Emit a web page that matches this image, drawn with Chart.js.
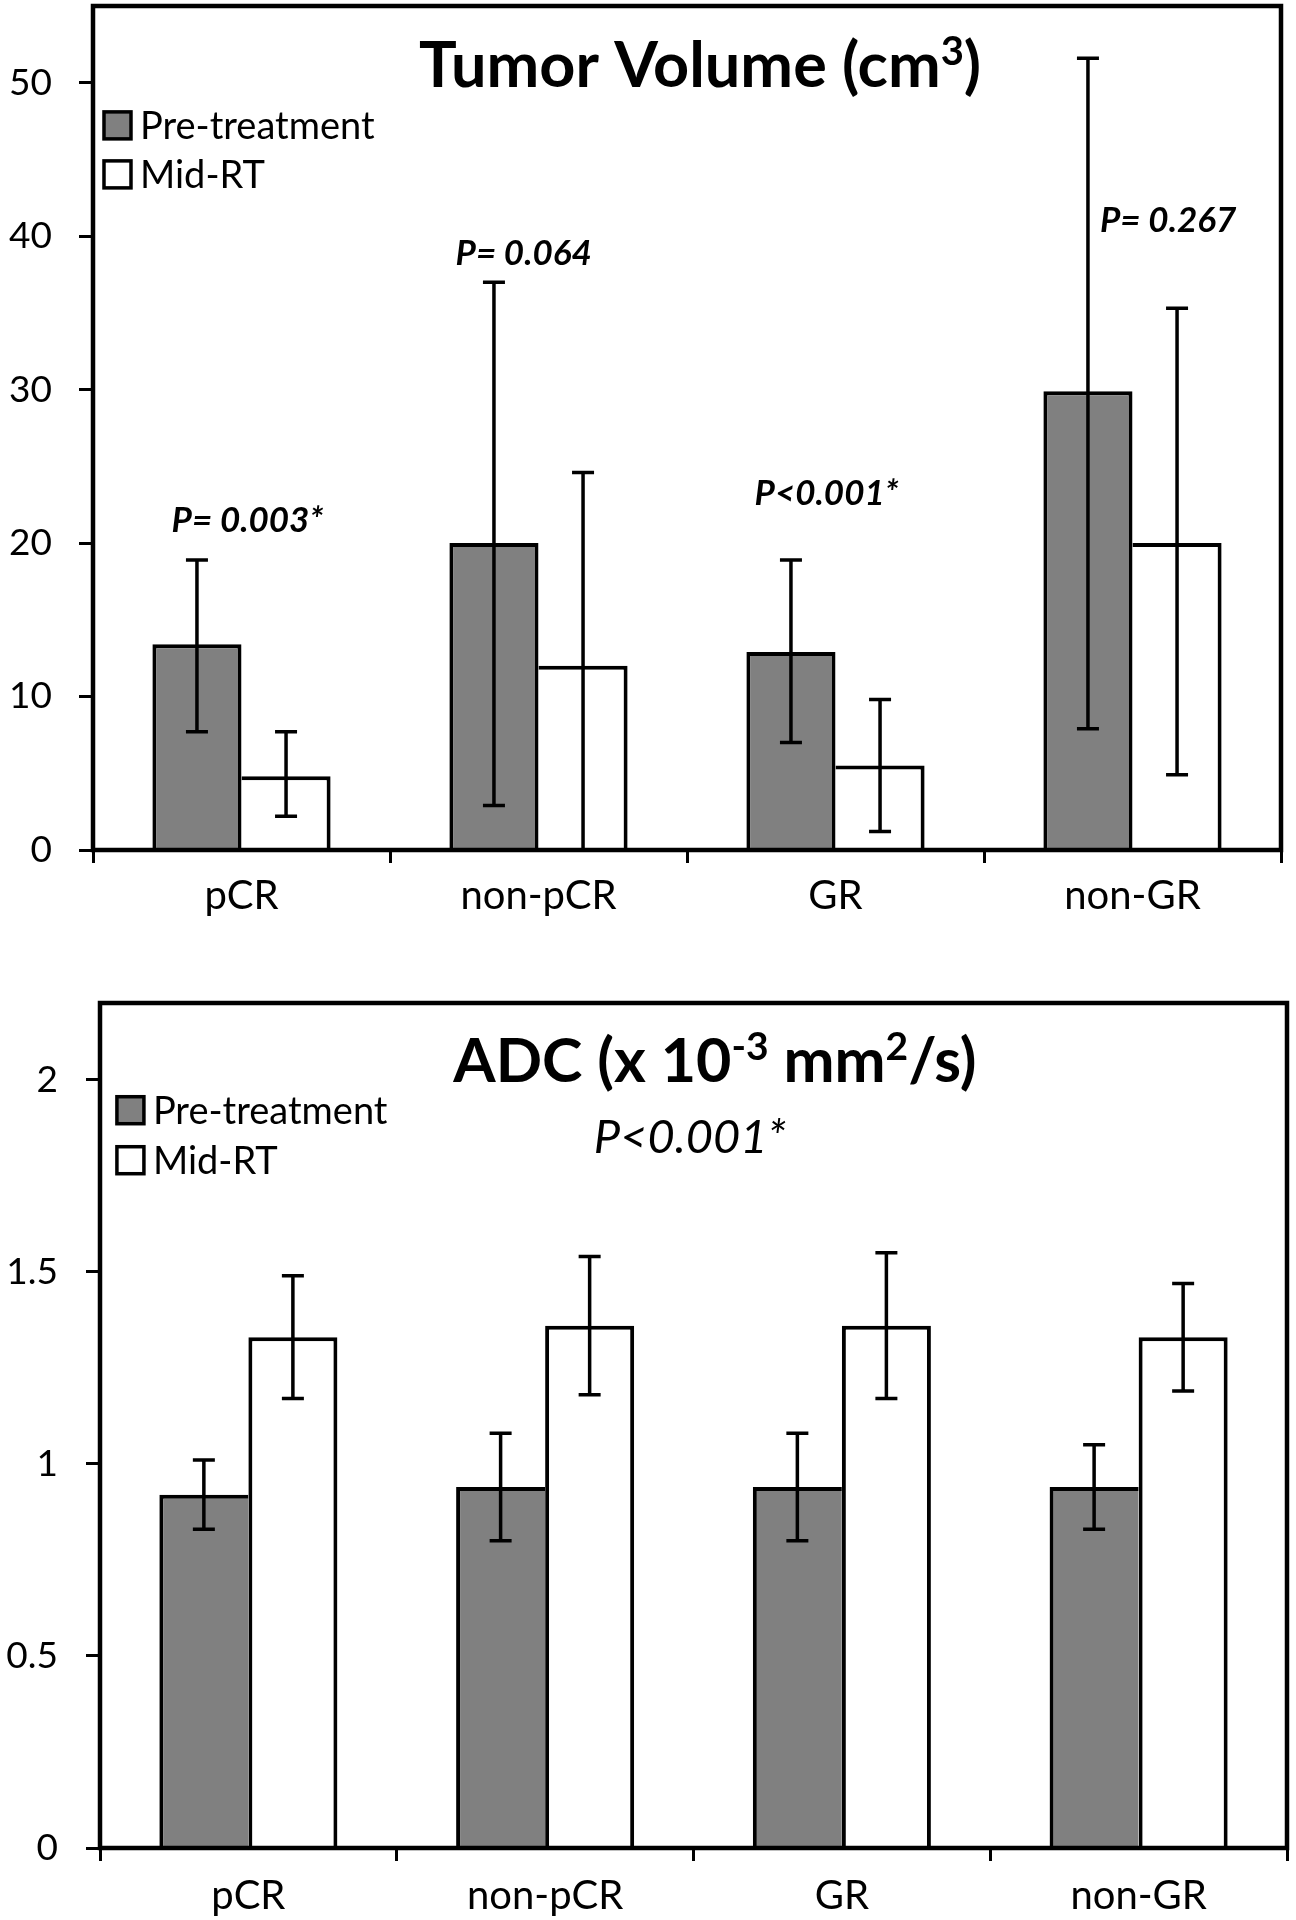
<!DOCTYPE html>
<html>
<head>
<meta charset="utf-8">
<script src="https://cdn.jsdelivr.net/npm/chart.js@4.4.1/dist/chart.umd.min.js"></script>
<style>
html,body{margin:0;padding:0;background:#fff;}
#wrap{position:relative;width:1296px;height:1920px;background:#fff;}
.panel{position:absolute;left:0;width:1296px;height:960px;}
#p1{top:0;}
#p2{top:960px;}
</style>
</head>
<body>
<div id="wrap">
  <div class="panel" id="p1"><canvas id="c1"></canvas></div>
  <div class="panel" id="p2"><canvas id="c2"></canvas></div>
</div>
<script>
// ---------------- DATA ----------------
const categories = ['pCR', 'non-pCR', 'GR', 'non-GR'];
const seriesNames = ['Pre-treatment', 'Mid-RT'];

// Tumor volume (cm3)
const tumorPre      = [13.4, 20.0, 12.9, 29.9];
const tumorPreLow   = [7.7, 2.9, 7.0, 7.9];
const tumorPreHigh  = [18.9, 37.0, 18.9, 51.6];
const tumorMid      = [4.8, 12.0, 5.5, 20.0];
const tumorMidLow   = [2.2, -0.8, 1.2, 4.9];
const tumorMidHigh  = [7.7, 24.6, 9.8, 35.3];
const tumorTicks    = [0, 10, 20, 30, 40, 50];
const tumorTickLabels = ['0', '10', '20', '30', '40', '50'];
const tumorPValues  = ['P= 0.003*', 'P= 0.064', 'P<0.001*', 'P= 0.267'];

// ADC (x10^-3 mm2/s)
const adcPre        = [0.92, 0.94, 0.94, 0.94];
const adcPreLow     = [0.83, 0.80, 0.80, 0.83];
const adcPreHigh    = [1.01, 1.08, 1.08, 1.05];
const adcMid        = [1.33, 1.36, 1.36, 1.33];
const adcMidLow     = [1.17, 1.18, 1.17, 1.19];
const adcMidHigh    = [1.49, 1.54, 1.55, 1.47];
const adcTicks      = [0, 0.5, 1, 1.5, 2];
const adcTickLabels = ['0', '0.5', '1', '1.5', '2'];
const adcPValue     = 'P<0.001*';

// ---------------- STYLE / LAYOUT ----------------
const FONT = 'Lato';
const GRAY = '#808080';

function drawRich(ctx, parts, cx, baseline, size, weight, style) {
  const fontFor = p => `${style} ${weight} ${p.sup ? Math.round(size * 0.64) : size}px ${FONT}`;
  let total = 0;
  parts.forEach(p => { ctx.font = fontFor(p); total += ctx.measureText(p.t).width; });
  let x = cx - total / 2;
  ctx.textAlign = 'left';
  ctx.textBaseline = 'alphabetic';
  parts.forEach(p => {
    ctx.font = fontFor(p);
    ctx.fillText(p.t, x, baseline - (p.sup ? size * 0.36 : 0));
    x += ctx.measureText(p.t).width;
  });
}

const overlayPlugin = {
  id: 'overlay',
  afterDatasetsDraw(chart, args, o) {
    const ctx = chart.ctx, xs = chart.scales.x, ys = chart.scales.y, ca = chart.chartArea;
    ctx.save();
    // error bars
    ctx.save();
    ctx.beginPath();
    ctx.rect(ca.left, ca.top, ca.right - ca.left, ca.bottom - ca.top);
    ctx.clip();
    ctx.strokeStyle = '#000';
    ctx.lineWidth = 3.5;
    chart.data.datasets.forEach((ds, di) => {
      const meta = chart.getDatasetMeta(di);
      meta.data.forEach((bar, i) => {
        const px = bar.x;
        const lo = ys.getPixelForValue(ds.errLow[i]);
        const hi = ys.getPixelForValue(ds.errHigh[i]);
        const cap = 11;
        ctx.beginPath();
        ctx.moveTo(px, lo); ctx.lineTo(px, hi);
        ctx.moveTo(px - cap, lo); ctx.lineTo(px + cap, lo);
        ctx.moveTo(px - cap, hi); ctx.lineTo(px + cap, hi);
        ctx.stroke();
      });
    });
    ctx.restore();

    // frame
    ctx.strokeStyle = '#000';
    ctx.lineWidth = 4.5;
    ctx.beginPath();
    ctx.moveTo(ca.left, ca.bottom);
    ctx.lineTo(ca.left, ca.top);
    ctx.lineTo(ca.right, ca.top);
    ctx.lineTo(ca.right, ca.bottom);
    ctx.lineTo(ca.left, ca.bottom);
    ctx.closePath();
    ctx.stroke();

    ctx.fillStyle = '#000';
    // title
    drawRich(ctx, o.title.parts, xs.getPixelForValue(o.title.x), ys.getPixelForValue(o.title.y),
             o.title.size, 'bold', 'normal');
    // p-value annotations
    o.notes.forEach(n => {
      ctx.font = `${n.style} ${n.weight} ${n.size}px ${FONT}`;
      ctx.textAlign = 'center';
      ctx.textBaseline = 'alphabetic';
      ctx.fillText(n.text, xs.getPixelForValue(n.x), ys.getPixelForValue(n.y));
    });
    // legend
    const lg = o.legend;
    const lx = xs.getPixelForValue(lg.x), ly = ys.getPixelForValue(lg.y);
    chart.data.datasets.forEach((ds, i) => {
      const top = ly + i * lg.rowGap;
      ctx.fillStyle = ds.backgroundColor;
      ctx.fillRect(lx, top, lg.box, lg.box);
      ctx.strokeStyle = '#000';
      ctx.lineWidth = 3.5;
      ctx.strokeRect(lx, top, lg.box, lg.box);
      ctx.fillStyle = '#000';
      ctx.font = `normal 400 ${lg.size}px ${FONT}`;
      ctx.textAlign = 'left';
      ctx.textBaseline = 'alphabetic';
      ctx.fillText(ds.label, lx + lg.box + 9, top + lg.box);
    });
    ctx.restore();
  }
};

function makeChart(canvasId, cfg) {
  return new Chart(document.getElementById(canvasId), {
    type: 'bar',
    data: {
      labels: categories,
      datasets: [
        { label: seriesNames[0], data: cfg.pre, errLow: cfg.preLow, errHigh: cfg.preHigh,
          backgroundColor: GRAY, borderColor: '#000', borderSkipped: false,
          borderWidth: cfg.preBorder },
        { label: seriesNames[1], data: cfg.mid, errLow: cfg.midLow, errHigh: cfg.midHigh,
          backgroundColor: '#ffffff', borderColor: '#000', borderSkipped: false,
          borderWidth: cfg.midBorder }
      ]
    },
    options: {
      responsive: true,
      maintainAspectRatio: false,
      animation: false,
      events: [],
      layout: { padding: cfg.padding },
      datasets: { bar: { categoryPercentage: 0.6, barPercentage: 1.0 } },
      plugins: {
        legend: { display: false },
        tooltip: { enabled: false },
        title: { display: false },
        overlay: cfg.overlay
      },
      scales: {
        x: {
          grid: { offset: true, drawOnChartArea: false, drawTicks: true, tickLength: 13, color: '#000', lineWidth: 3 },
          border: { display: false },
          ticks: { font: { family: FONT, size: 40 }, color: '#000', padding: cfg.xPad, maxRotation: 0 },
          afterFit(s) { s.height = cfg.xHeight; s.paddingLeft = 0; s.paddingRight = 0; }
        },
        y: {
          min: 0, max: cfg.max,
          grid: { drawOnChartArea: false, drawTicks: true, tickLength: 14, color: '#000', lineWidth: 3 },
          border: { display: false },
          ticks: {
            font: { family: FONT, size: 37 }, color: '#000', padding: cfg.yPad, includeBounds: false,
            callback: (v) => { const k = cfg.ticks.indexOf(v); return k >= 0 ? cfg.tickLabels[k] : ''; }
          },
          afterBuildTicks(s) { s.ticks = cfg.ticks.map(v => ({ value: v })); },
          afterFit(s) { s.width = cfg.yWidth; s.paddingTop = 0; s.paddingBottom = 0; }
        }
      }
    },
    plugins: [overlayPlugin]
  });
}

function build() {
  makeChart('c1', {
    pre: tumorPre, preLow: tumorPreLow, preHigh: tumorPreHigh,
    mid: tumorMid, midLow: tumorMidLow, midHigh: tumorMidHigh,
    preBorder: { top: 4, left: 4, right: 4, bottom: 0 },
    midBorder: { top: 4, left: 0, right: 4, bottom: 0 },
    max: 55, ticks: tumorTicks, tickLabels: tumorTickLabels,
    padding: { left: 0, top: 6, right: 15, bottom: 0 },
    yWidth: 93, xHeight: 110, xPad: 9, yPad: 27,
    overlay: {
      title: { parts: [{ t: 'Tumor Volume (cm' }, { t: '3', sup: true }, { t: ')' }], x: 1.544, y: 49.7, size: 63 },
      notes: [
        { text: tumorPValues[0], x: 0.02, y: 20.7, size: 35, weight: 'bold', style: 'italic' },
        { text: tumorPValues[1], x: 0.95, y: 38.1, size: 35, weight: 'bold', style: 'italic' },
        { text: tumorPValues[2], x: 1.97, y: 22.5, size: 35, weight: 'bold', style: 'italic' },
        { text: tumorPValues[3], x: 3.12, y: 40.3, size: 35, weight: 'bold', style: 'italic' }
      ],
      legend: { x: -0.463, y: 48.1, rowGap: 49, box: 27, size: 38 }
    }
  });
  makeChart('c2', {
    pre: adcPre, preLow: adcPreLow, preHigh: adcPreHigh,
    mid: adcMid, midLow: adcMidLow, midHigh: adcMidHigh,
    preBorder: { top: 4, left: 4, right: 0, bottom: 0 },
    midBorder: { top: 4, left: 4, right: 4, bottom: 0 },
    max: 2.2, ticks: adcTicks, tickLabels: adcTickLabels,
    padding: { left: 0, top: 43, right: 9, bottom: 0 },
    yWidth: 100, xHeight: 72, xPad: 11, yPad: 28,
    overlay: {
      title: { parts: [{ t: 'ADC (x 10' }, { t: '-3', sup: true }, { t: ' mm' }, { t: '2', sup: true }, { t: '/s)' }], x: 1.572, y: 1.995, size: 61 },
      notes: [
        { text: adcPValue, x: 1.488, y: 1.81, size: 47, weight: 'normal', style: 'italic' }
      ],
      legend: { x: -0.443, y: 1.956, rowGap: 50, box: 27, size: 38 }
    }
  });
}

const fontLoads = [
  `normal 400 38px ${FONT}`, `normal 700 63px ${FONT}`,
  `italic 700 35px ${FONT}`, `italic 400 47px ${FONT}`
].map(f => document.fonts.load(f).catch(() => null));
Promise.all(fontLoads).then(build, build);
</script>
</body>
</html>
